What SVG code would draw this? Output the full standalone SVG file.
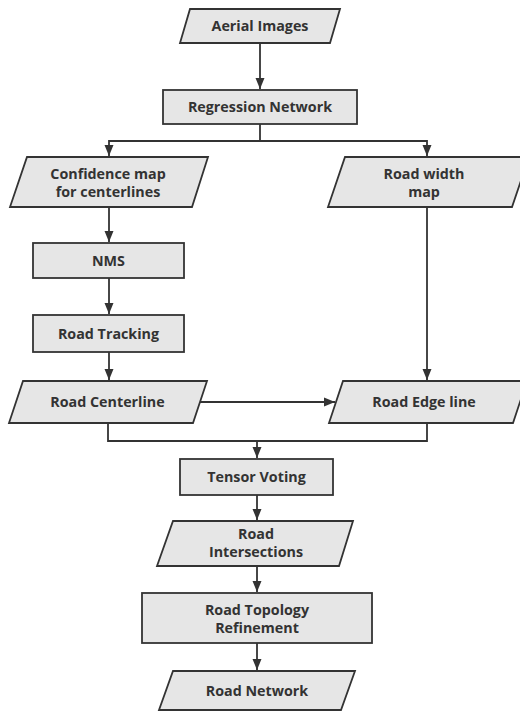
<svg xmlns="http://www.w3.org/2000/svg" width="520" height="713" viewBox="0 0 520 713">
<defs>
<marker id="arr" markerWidth="12" markerHeight="10" refX="11" refY="5" orient="auto" markerUnits="userSpaceOnUse">
<path d="M0,0.5 L11,5 L0,9.5 Z" fill="#333"/>
</marker>
<style>
.shape{fill:#e6e6e6;stroke:#333;stroke-width:1.8}
.lbl{font-family:"Open Sans","Liberation Sans",sans-serif;font-weight:bold;font-size:14.3px;fill:#333;text-anchor:middle}
.conn{fill:none;stroke:#333;stroke-width:1.8}
</style>
</defs>
<rect width="520" height="713" fill="#fff"/>
<g id="connectors">
<path class="conn" d="M260,43 V89" marker-end="url(#arr)"/>
<path class="conn" d="M260,124 V141 H109 V156" marker-end="url(#arr)"/>
<path class="conn" d="M260,141 H427 V156" marker-end="url(#arr)"/>
<path class="conn" d="M109,207 V242" marker-end="url(#arr)"/>
<path class="conn" d="M109,278 V314" marker-end="url(#arr)"/>
<path class="conn" d="M109,352 V380" marker-end="url(#arr)"/>
<path class="conn" d="M427,207 V380" marker-end="url(#arr)"/>
<path class="conn" d="M200,402 H335" marker-end="url(#arr)"/>
<path class="conn" d="M108,423 V441 H427 V423"/>
<path class="conn" d="M257,441 V458" marker-end="url(#arr)"/>
<path class="conn" d="M257,495 V520" marker-end="url(#arr)"/>
<path class="conn" d="M257,566 V592" marker-end="url(#arr)"/>
<path class="conn" d="M257,643 V670" marker-end="url(#arr)"/>
</g>
<g id="aerial-images">
<polygon class="shape" points="190,9 340,9 330,43 180,43"/>
<text class="lbl" x="260" y="31">Aerial Images</text>
</g>
<g id="regression-network">
<rect class="shape" x="163" y="90" width="194" height="34"/>
<text class="lbl" x="260" y="112">Regression Network</text>
</g>
<g id="confidence-map">
<polygon class="shape" points="27,157 208,157 192,207 10,207"/>
<text class="lbl" x="108" y="179">Confidence map</text>
<text class="lbl" x="108" y="197">for centerlines</text>
</g>
<g id="road-width-map">
<polygon class="shape" points="345,157 529,157 512,207 328,207"/>
<text class="lbl" x="424" y="179">Road width</text>
<text class="lbl" x="424" y="197">map</text>
</g>
<g id="nms">
<rect class="shape" x="33" y="243" width="151" height="35"/>
<text class="lbl" x="108.5" y="265.5">NMS</text>
</g>
<g id="road-tracking">
<rect class="shape" x="33" y="315" width="151" height="37"/>
<text class="lbl" x="108.5" y="338.5">Road Tracking</text>
</g>
<g id="road-centerline">
<polygon class="shape" points="23,381 207,381 193,423 9,423"/>
<text class="lbl" x="107.5" y="407">Road Centerline</text>
</g>
<g id="road-edge-line">
<polygon class="shape" points="343,381 527,381 513,423 329,423"/>
<text class="lbl" x="424" y="407">Road Edge line</text>
</g>
<g id="tensor-voting">
<rect class="shape" x="180" y="459" width="153" height="36"/>
<text class="lbl" x="256.5" y="482">Tensor Voting</text>
</g>
<g id="road-intersections">
<polygon class="shape" points="173,521 353,521 339,566 157,566"/>
<text class="lbl" x="256" y="539">Road</text>
<text class="lbl" x="256" y="557">Intersections</text>
</g>
<g id="road-topology-refinement">
<rect class="shape" x="142" y="593" width="230" height="50"/>
<text class="lbl" x="257" y="615">Road Topology</text>
<text class="lbl" x="257" y="633">Refinement</text>
</g>
<g id="road-network">
<polygon class="shape" points="173,671 355,671 341,710 159,710"/>
<text class="lbl" x="257" y="696">Road Network</text>
</g>
</svg>
